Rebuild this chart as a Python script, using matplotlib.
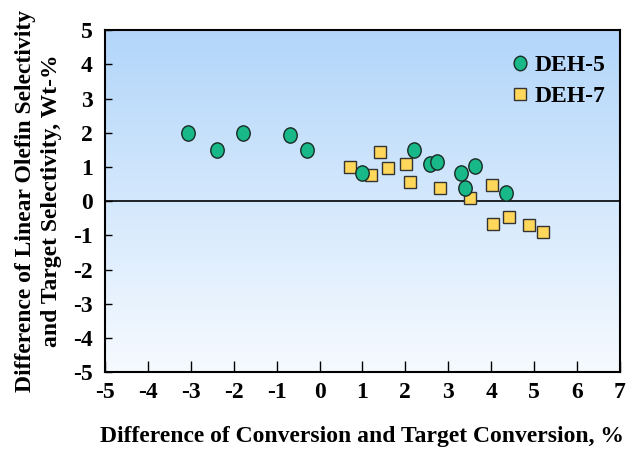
import numpy as np
import matplotlib
matplotlib.use("Agg")
import matplotlib.pyplot as plt
from matplotlib.path import Path
from matplotlib.transforms import Affine2D

deh5_x = [-3.07, -2.40, -1.79, -0.70, -0.30, 0.98, 2.21, 2.58, 2.74, 3.30, 3.40, 3.63, 4.35]
deh5_y = [2.00, 1.51, 2.00, 1.92, 1.51, 0.83, 1.51, 1.10, 1.15, 0.83, 0.37, 1.04, 0.25]
deh7_x = [0.72, 1.40, 1.21, 1.60, 2.02, 2.12, 2.81, 3.51, 4.02, 4.05, 4.42, 4.88, 5.21]
deh7_y = [1.01, 1.45, 0.77, 0.98, 1.10, 0.57, 0.37, 0.10, 0.48, -0.66, -0.45, -0.69, -0.89]
xticks = list(range(-5, 8))
yticks = list(range(-5, 6))

plt.rcParams['font.family'] = ['Liberation Serif', 'DejaVu Serif']
plt.rcParams['font.weight'] = 'bold'
plt.rcParams['axes.unicode_minus'] = False

fig = plt.figure(figsize=(6.26, 4.5), dpi=100)
ax = fig.add_axes([0.168, 0.173, 0.822, 0.760])

# gradient background
grad = np.linspace(0, 1, 256).reshape(-1, 1)
top = np.array([178, 214, 250]) / 255
bot = np.array([246, 250, 255]) / 255
img = top[None, None, :] * (1 - grad[:, :, None]) + bot[None, None, :] * grad[:, :, None]
ax.imshow(img, extent=[-5, 7, -5, 5], aspect='auto', origin='upper', zorder=0)

ax.axhline(0, color='black', lw=1.2, zorder=1)

ell = Path.unit_circle().transformed(Affine2D().scale(0.88, 1.0))
ax.plot(deh5_x, deh5_y, linestyle='none', marker=ell, markersize=11,
        markerfacecolor='#18b889', markeredgecolor='#1a2a25', markeredgewidth=1.0,
        label='DEH-5', zorder=3)
ax.plot(deh7_x, deh7_y, linestyle='none', marker='s', markersize=9,
        markerfacecolor='#ffd75a', markeredgecolor='#333333', markeredgewidth=1.0,
        label='DEH-7', zorder=2)

ax.set_xlim(-5, 7)
ax.set_ylim(-5, 5)
ax.set_xticks(xticks)
ax.set_yticks(yticks)
ax.tick_params(axis='x', direction='in', length=8, width=1, labelsize=17, pad=7)
ax.tick_params(axis='y', direction='in', length=5, width=1, labelsize=17, pad=9)
for s in ax.spines.values():
    s.set_linewidth(1.5)

ax.set_xlabel('Difference of Conversion and Target Conversion, %', fontsize=17,
              fontweight='bold', labelpad=17)
ax.set_ylabel('Difference of Linear Olefin Selectivity\nand Target Selectivity, Wt-%',
              fontsize=17, fontweight='bold', labelpad=8, linespacing=1.3)

leg = ax.legend(loc='upper right', bbox_to_anchor=(1.013, 0.99), frameon=False,
                fontsize=17, handletextpad=0.0, labelspacing=0.4, markerscale=0.95,
                handlelength=1.2)

fig.savefig('out.png', dpi=100)
